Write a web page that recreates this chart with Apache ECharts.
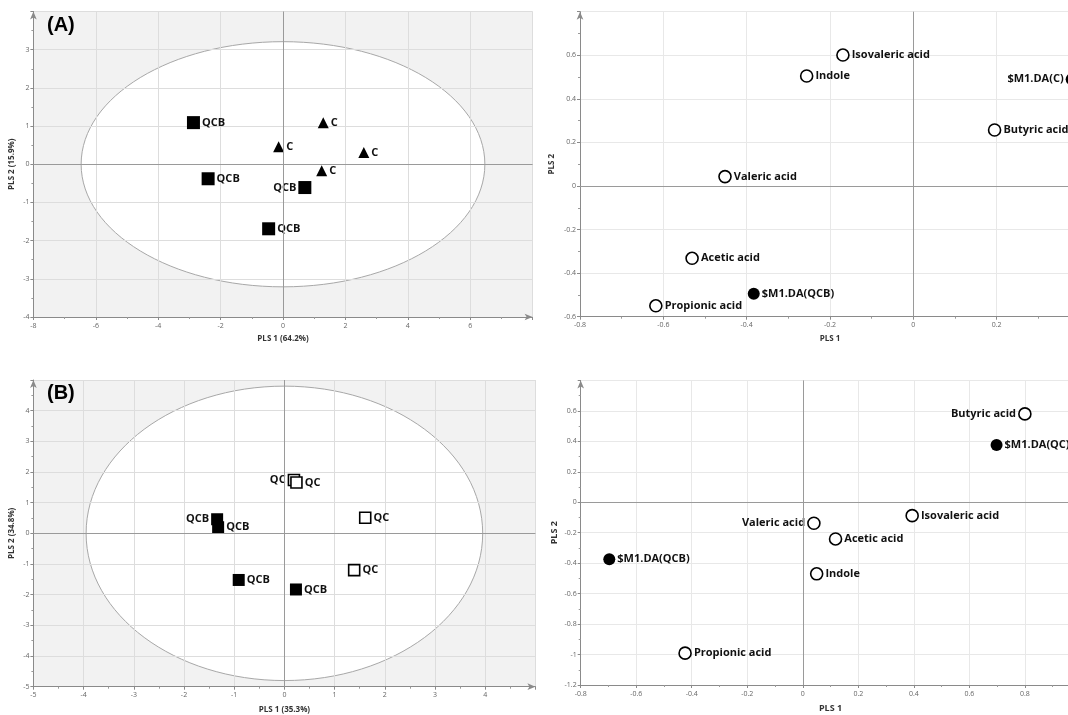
<!DOCTYPE html>
<html>
<head>
<meta charset="utf-8">
<script src="https://cdn.jsdelivr.net/npm/echarts@6/dist/echarts.min.js"></script>
<style>
html,body{margin:0;padding:0;background:#fff;}
#chart{width:1068px;height:715px;}
</style>
</head>
<body>
<div id="chart"></div>
<script>
// ---------- DATA ----------
// Panel A, score plot
const A_SCORE_QCB = [[-2.87, 1.09], [-2.40, -0.38], [0.70, -0.61], [-0.46, -1.69]];
const A_SCORE_QCB_SIDE = ['right', 'right', 'left', 'right'];
const A_SCORE_C = [[1.29, 1.09], [-0.14, 0.46], [2.59, 0.31], [1.24, -0.17]];
const A_SCORE_C_SIDE = ['right', 'right', 'right', 'right'];
const A_ELLIPSE = [6.47, 3.21];
const A_SCORE_X = [-8, 8, 2];
const A_SCORE_Y = [-4, 4, 1];
// Panel A, loading plot
const A_LOAD_X_NAMES = ['Isovaleric acid', 'Indole', 'Butyric acid', 'Valeric acid', 'Acetic acid', 'Propionic acid'];
const A_LOAD_X_VALUES = [[-0.169, 0.601], [-0.256, 0.505], [0.195, 0.257], [-0.452, 0.043], [-0.531, -0.332], [-0.618, -0.550]];
const A_LOAD_X_SIDE = ['right', 'right', 'right', 'right', 'right', 'right'];
const A_LOAD_Y_NAMES = ['$M1.DA(C)', '$M1.DA(QCB)'];
const A_LOAD_Y_VALUES = [[0.38, 0.49], [-0.383, -0.495]];
const A_LOAD_Y_SIDE = ['left', 'right'];
const A_LOAD_XR = [-0.8, 0.4, 0.2];
const A_LOAD_YR = [-0.6, 0.8, 0.2];
// Panel B, score plot
const B_SCORE_QCB = [[-1.34, 0.46], [-1.32, 0.20], [-0.91, -1.52], [0.23, -1.83]];
const B_SCORE_QCB_SIDE = ['left', 'right', 'right', 'right'];
const B_SCORE_QC = [[0.19, 1.74], [0.24, 1.66], [1.61, 0.51], [1.39, -1.20]];
const B_SCORE_QC_SIDE = ['left', 'right', 'right', 'right'];
const B_ELLIPSE = [3.95, 4.8];
const B_SCORE_X = [-5, 5, 1];
const B_SCORE_Y = [-5, 5, 1];
// Panel B, loading plot
const B_LOAD_X_NAMES = ['Butyric acid', 'Isovaleric acid', 'Valeric acid', 'Acetic acid', 'Indole', 'Propionic acid'];
const B_LOAD_X_VALUES = [[0.80, 0.58], [0.394, -0.088], [0.040, -0.138], [0.118, -0.241], [0.050, -0.470], [-0.424, -0.991]];
const B_LOAD_X_SIDE = ['left', 'right', 'left', 'right', 'right', 'right'];
const B_LOAD_Y_NAMES = ['$M1.DA(QC)', '$M1.DA(QCB)'];
const B_LOAD_Y_VALUES = [[0.698, 0.376], [-0.697, -0.374]];
const B_LOAD_Y_SIDE = ['right', 'right'];
const B_LOAD_XR = [-0.8, 1.0, 0.2];
const B_LOAD_YR = [-1.2, 0.8, 0.2];

const AXIS_TITLES = {
  aX: 'PLS 1 (64.2%)', aY: 'PLS 2 (15.9%)',
  alX: 'PLS 1', alY: 'PLS 2',
  bX: 'PLS 1 (35.3%)', bY: 'PLS 2 (34.8%)',
  blX: 'PLS 1', blY: 'PLS 2'
};

// ---------- HELPERS ----------
const LABEL_FONT = '"Open Sans", "Noto Sans", sans-serif';

function pts(values, names, sides) {
  return values.map((v, i) => ({
    value: v,
    name: Array.isArray(names) ? names[i] : names,
    label: { position: sides[i] }
  }));
}

function xAxis(gi, r, name, gap, fs, grayBg) {
  return {
    gridIndex: gi, type: 'value', min: r[0], max: r[1], interval: r[2],
    name: name, nameLocation: 'middle', nameGap: gap,
    nameTextStyle: { fontSize: fs, fontWeight: 'bold', color: '#333', fontFamily: LABEL_FONT },
    axisLine: { onZero: false, lineStyle: { color: '#8a8a8a', width: 1 }, symbol: ['none', 'arrow'], symbolSize: [5, 8] },
    axisTick: { length: 3, lineStyle: { color: '#8a8a8a' } },
    minorTick: { show: true, splitNumber: 2, length: 2, lineStyle: { color: '#9a9a9a' } },
    axisLabel: { fontSize: 7, color: '#666', showMaxLabel: false, margin: 5, fontFamily: LABEL_FONT },
    splitLine: { show: true, lineStyle: { color: grayBg ? '#dddddd' : '#e8e8e8', width: 1 } }
  };
}
function yAxis(gi, r, name, gap, fs, grayBg) {
  return {
    gridIndex: gi, type: 'value', min: r[0], max: r[1], interval: r[2],
    name: name, nameLocation: 'middle', nameGap: gap, nameRotate: 90,
    nameTextStyle: { fontSize: fs, fontWeight: 'bold', color: '#333', fontFamily: LABEL_FONT },
    axisLine: { onZero: false, lineStyle: { color: '#8a8a8a', width: 1 }, symbol: ['none', 'arrow'], symbolSize: [5, 8] },
    axisTick: { length: 3, lineStyle: { color: '#8a8a8a' } },
    minorTick: { show: true, splitNumber: 2, length: 2, lineStyle: { color: '#9a9a9a' } },
    axisLabel: { fontSize: 7, color: '#666', showMaxLabel: false, margin: 4, fontFamily: LABEL_FONT },
    splitLine: { show: true, lineStyle: { color: grayBg ? '#dddddd' : '#e8e8e8', width: 1 } }
  };
}

function ellipseSeries(idx, semi) {
  return {
    type: 'custom', xAxisIndex: idx, yAxisIndex: idx, z: -1, silent: true,
    data: [[0, 0]],
    renderItem: function (params, api) {
      const c = api.coord([0, 0]);
      const s = api.size([semi[0], semi[1]]);
      return {
        type: 'ellipse',
        shape: { cx: c[0], cy: c[1], rx: s[0], ry: s[1] },
        style: { fill: '#ffffff', stroke: '#a8a8a8', lineWidth: 1 }
      };
    }
  };
}

const labelBase = {
  show: true, formatter: '{b}', color: '#111', fontWeight: 'bold',
  fontFamily: LABEL_FONT, fontSize: 11, distance: 2
};

function zeroLines() {
  return {
    silent: true, symbol: 'none', label: { show: false },
    lineStyle: { color: '#9a9a9a', width: 1, type: 'solid' },
    data: [{ xAxis: 0 }, { yAxis: 0 }]
  };
}

function scatter(idx, data, symbol, size, filled, extra) {
  return Object.assign({
    type: 'scatter', xAxisIndex: idx, yAxisIndex: idx,
    symbol: symbol, symbolSize: size, data: data,
    itemStyle: filled ? { color: '#000', borderColor: '#000', borderWidth: 0, opacity: 1 }
                      : { color: '#fff', borderColor: '#000', borderWidth: 1.6, opacity: 1 },
    label: labelBase,
    emphasis: { disabled: true },
    z: 3
  }, extra || {});
}

// ---------- CHART ----------
const chart = echarts.init(document.getElementById('chart'));
const gridBase = { outerBoundsMode: 'none', containLabel: false, borderWidth: 0 };
const option = {
  animation: false,
  backgroundColor: '#fff',
  grid: [
    Object.assign({ left: 33.4, top: 11.5, width: 499.2, height: 305.5, show: true, backgroundColor: '#f2f2f2', z: -2 }, gridBase),
    Object.assign({ left: 580, top: 11.7, width: 500, height: 305, show: false }, gridBase),
    Object.assign({ left: 33.4, top: 380, width: 502, height: 306.7, show: true, backgroundColor: '#f2f2f2', z: -2 }, gridBase),
    Object.assign({ left: 580.7, top: 380.4, width: 499.7, height: 304.6, show: false }, gridBase)
  ],
  xAxis: [
    xAxis(0, A_SCORE_X, AXIS_TITLES.aX, 18, 8, true),
    xAxis(1, A_LOAD_XR, AXIS_TITLES.alX, 18, 8, false),
    xAxis(2, B_SCORE_X, AXIS_TITLES.bX, 19, 8, true),
    xAxis(3, B_LOAD_XR, AXIS_TITLES.blX, 19, 9, false)
  ],
  yAxis: [
    yAxis(0, A_SCORE_Y, AXIS_TITLES.aY, 18, 8, true),
    yAxis(1, A_LOAD_YR, AXIS_TITLES.alY, 24, 8, false),
    yAxis(2, B_SCORE_Y, AXIS_TITLES.bY, 18, 8, true),
    yAxis(3, B_LOAD_YR, AXIS_TITLES.blY, 22, 9, false)
  ],
  graphic: [
    { type: 'text', left: 47, top: 15, style: { text: '(A)', font: 'bold 20px "Liberation Sans", Arial, sans-serif', fill: '#000' } },
    { type: 'text', left: 47, top: 383, style: { text: '(B)', font: 'bold 20px "Liberation Sans", Arial, sans-serif', fill: '#000' } }
  ],
  series: [
    // Panel A score
    ellipseSeries(0, A_ELLIPSE),
    scatter(0, pts(A_SCORE_QCB, 'QCB', A_SCORE_QCB_SIDE), 'rect', 13, true, { markLine: zeroLines() }),
    scatter(0, pts(A_SCORE_C, 'C', A_SCORE_C_SIDE), 'triangle', 11, true),
    // Panel A loading
    scatter(1, pts(A_LOAD_X_VALUES, A_LOAD_X_NAMES, A_LOAD_X_SIDE), 'circle', 12, false, { markLine: zeroLines() }),
    scatter(1, pts(A_LOAD_Y_VALUES, A_LOAD_Y_NAMES, A_LOAD_Y_SIDE), 'circle', 12, true),
    // Panel B score
    ellipseSeries(2, B_ELLIPSE),
    scatter(2, pts(B_SCORE_QCB, 'QCB', B_SCORE_QCB_SIDE), 'rect', 12, true, { markLine: zeroLines() }),
    scatter(2, pts(B_SCORE_QC, 'QC', B_SCORE_QC_SIDE), 'rect', 11, false),
    // Panel B loading
    scatter(3, pts(B_LOAD_X_VALUES, B_LOAD_X_NAMES, B_LOAD_X_SIDE), 'circle', 12, false, { markLine: zeroLines() }),
    scatter(3, pts(B_LOAD_Y_VALUES, B_LOAD_Y_NAMES, B_LOAD_Y_SIDE), 'circle', 12, true)
  ]
};
chart.setOption(option);
</script>
</body>
</html>
